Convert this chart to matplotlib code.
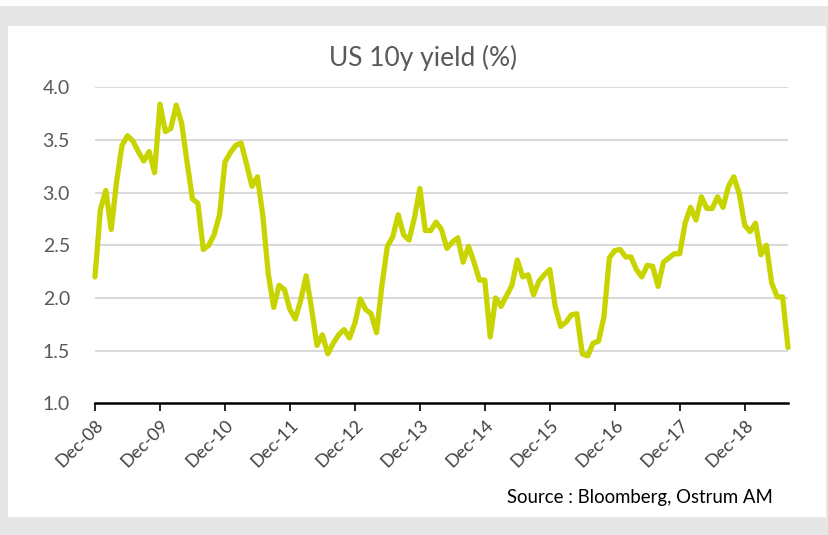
import matplotlib.pyplot as plt
from matplotlib.patches import Rectangle

# monthly US 10y yield, Dec-08 .. Aug-19
yields = [
    2.20, 2.84, 3.02, 2.65, 3.11, 3.45, 3.54, 3.49, 3.39, 3.30, 3.39, 3.19,
    3.84, 3.58, 3.61, 3.83, 3.66, 3.29, 2.94, 2.90, 2.46, 2.50, 2.60, 2.79,
    3.29, 3.38, 3.45, 3.47, 3.27, 3.06, 3.15, 2.78, 2.23, 1.91, 2.12, 2.08,
    1.89, 1.80, 1.98, 2.21, 1.90, 1.55, 1.65, 1.47, 1.57, 1.65, 1.70, 1.62,
    1.76, 1.99, 1.89, 1.85, 1.67, 2.12, 2.49, 2.58, 2.79, 2.60, 2.55, 2.76,
    3.04, 2.64, 2.64, 2.72, 2.65, 2.47, 2.53, 2.57, 2.34, 2.49, 2.34, 2.17,
    2.17, 1.63, 2.00, 1.92, 2.02, 2.12, 2.36, 2.20, 2.22, 2.03, 2.16, 2.22,
    2.27, 1.92, 1.73, 1.77, 1.84, 1.85, 1.47, 1.45, 1.57, 1.59, 1.82, 2.38,
    2.45, 2.46, 2.39, 2.39, 2.27, 2.20, 2.31, 2.30, 2.11, 2.34, 2.38, 2.42,
    2.42, 2.71, 2.86, 2.74, 2.96, 2.85, 2.85, 2.96, 2.86, 3.06, 3.15, 2.99,
    2.69, 2.63, 2.71, 2.41, 2.50, 2.14, 2.01, 2.01, 1.53,
]
tick_labels = ['Dec-08', 'Dec-09', 'Dec-10', 'Dec-11', 'Dec-12', 'Dec-13',
               'Dec-14', 'Dec-15', 'Dec-16', 'Dec-17', 'Dec-18']
y_ticks = [1.0, 1.5, 2.0, 2.5, 3.0, 3.5, 4.0]

plt.rcParams['font.family'] = ['Lato', 'DejaVu Sans']
text_col = '#595959'

W, H = 829, 535
fig = plt.figure(figsize=(W / 100, H / 100), dpi=100, facecolor='#e6e6e6')

# white panel + thin white strip on top (behind the axes)
fig.patches.append(Rectangle((8 / W, 18 / H), (W - 11) / W, (517 - 26) / H, zorder=-5,
                             transform=fig.transFigure, facecolor='white', edgecolor='none'))
fig.patches.append(Rectangle((0, 1 - 6 / H), 1, 6 / H, zorder=-5,
                             transform=fig.transFigure, facecolor='white', edgecolor='none'))

ax = fig.add_axes([95 / W, 1 - 403.3 / H, (788 - 95) / W, (403.3 - 87.3) / H])
ax.set_facecolor('none')

x = list(range(len(yields)))
ax.plot(x, yields, color='#c8d400', lw=3.8, solid_joinstyle='round',
        solid_capstyle='round', zorder=3, clip_on=False)

ax.set_xlim(0, len(yields) - 1)
ax.set_ylim(1.0, 4.0)
ax.set_yticks(y_ticks)
ax.set_yticklabels([f'{v:.1f}' for v in y_ticks], fontsize=14, color=text_col)
for v in y_ticks[1:]:
    ax.axhline(v, color='#d9d9d9', lw=1.5, zorder=1)

ax.set_xticks(range(0, len(yields), 12))
ax.set_xticklabels(tick_labels, rotation=45, ha='right', rotation_mode='anchor',
                   fontsize=13, color='#404040')

for s in ['top', 'right', 'left']:
    ax.spines[s].set_visible(False)
ax.spines['bottom'].set_color('black')
ax.spines['bottom'].set_linewidth(1.8)
ax.tick_params(axis='y', length=0, pad=18)
ax.tick_params(axis='x', direction='out', length=6, width=1.2, color='black', pad=4)

fig.text(423 / W, 1 - 58 / H, 'US 10y yield (%)', ha='center', va='center',
         fontsize=19, color=text_col)
fig.text(773 / W, 1 - 498 / H, 'Source : Bloomberg, Ostrum AM', ha='right', va='center',
         fontsize=13.4, color='black')

fig.savefig('out.png', dpi=100, facecolor=fig.get_facecolor())
